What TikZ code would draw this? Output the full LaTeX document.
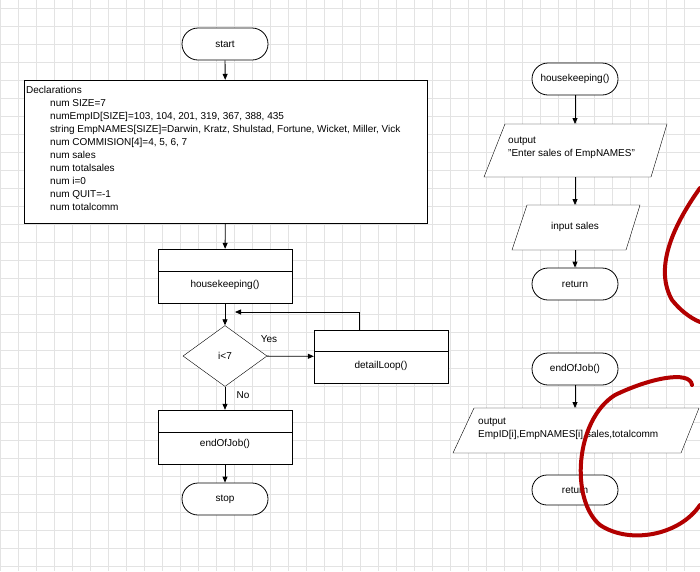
\documentclass[tikz,border=0pt]{standalone}
\usepackage{fontspec}
\setmainfont{Liberation Sans}
\usetikzlibrary{arrows.meta,shapes.geometric,shapes.misc}
\begin{document}
\begin{tikzpicture}[x=1pt,y=-1pt,font=\fontsize{10}{13}\selectfont,
  term/.style={draw,thick,rounded rectangle,minimum width=86pt,minimum height=32pt,inner sep=0},
  proc/.style={draw,minimum width=134pt,minimum height=54pt,inner sep=0},
  arr/.style={-{Triangle[length=6pt,width=5pt]},thick},
  grid/.style={draw=gray!22,line width=0.6pt}]
\useasboundingbox (0,0) rectangle (700,571);
\fill[white] (0,0) rectangle (700,571);
\foreach \x in {0,18,...,700} \draw[grid] (\x,0) -- (\x,571);
\foreach \y in {8,26,...,571} \draw[grid] (0,\y) -- (700,\y);
% left column
\node[term,fill=white] (start) at (225,44) {start};
\node[draw,fill=white,minimum width=403pt,minimum height=143pt] (decl) at (225.5,151.5) {};
\node[anchor=north west,align=left,inner sep=0] (decltext) at (26,86) {Declarations\\
\hspace*{24pt}num SIZE=7\\
\hspace*{24pt}numEmpID[SIZE]=103, 104, 201, 319, 367, 388, 435\\
\hspace*{24pt}string EmpNAMES[SIZE]=Darwin, Kratz, Shulstad, Fortune, Wicket, Miller, Vick\\
\hspace*{24pt}num COMMISION[4]=4, 5, 6, 7\\
\hspace*{24pt}num sales\\
\hspace*{24pt}num totalsales\\
\hspace*{24pt}num i=0\\
\hspace*{24pt}num QUIT=-1\\
\hspace*{24pt}num totalcomm};
\node[proc,fill=white] (hk) at (225,276) {};
\draw (158,271) -- (292,271);
\node (hkt) at (225,285) {housekeeping()};
\node[diamond,draw,fill=white,minimum width=84pt,minimum height=61pt,inner sep=0,aspect=1.4] (dec) at (225,356) {};
\node at (225,356) {i<7};
\node[proc,fill=white,minimum height=53pt] (dl) at (381,356.5) {};
\draw (314,351) -- (448,351);
\node (dlt) at (381,366) {detailLoop()};
\node (yes) at (269,339) {Yes};
\node (no) at (243,395) {No};
\node[proc,fill=white] (ej) at (225,437) {};
\draw (158,432) -- (292,432);
\node (ejt) at (225,444) {endOfJob()};
\node[term,fill=white] (stop) at (225,499) {stop};
\coordinate (back) at (235,312);
\draw[arr] (start) -- (decl);
\draw[arr] (decl) -- (hk);
\draw[arr] (hk) -- (dec);
\draw[arr] (dec) -- (dl);
\draw[arr] (dec) -- (ej);
\draw[arr] (ej) -- (stop);
\draw[arr] (dl.north -| 359,0) |- (back);
% right column
\node[term,fill=white] (hk2) at (575,79) {housekeeping()};
\draw[fill=white] (505,124) -- (667,124) -- (651,177) -- (484,177) -- cycle;
\node[anchor=north west,align=left,inner sep=0] (out1) at (508,137) {output\\\symbol{34}Enter sales of EmpNAMES\symbol{34}};
\coordinate (o1t) at (575,124); \coordinate (o1b) at (575,177);
\draw[fill=white] (527,205) -- (640,205) -- (626,250) -- (512,250) -- cycle;
\node (insales) at (575,227) {input sales};
\coordinate (i1t) at (575,205); \coordinate (i1b) at (575,250);
\node[term,fill=white] (ret1) at (575,284) {return};
\draw[arr] (hk2) -- (o1t);
\draw[arr] (o1b) -- (i1t);
\draw[arr] (i1b) -- (ret1);
\node[term,fill=white] (ej2) at (575,369) {endOfJob()};
\draw[fill=white] (474,408) -- (699,408) -- (681,453) -- (453,453) -- cycle;
\node[anchor=north west,align=left,inner sep=0] (out2) at (478,418) {output\\EmpID[i],EmpNAMES[i],sales,totalcomm};
\coordinate (o2t) at (575,408);
\draw[arr] (ej2) -- (o2t);
\node[term,fill=white,minimum height=30pt] (ret2) at (575,490) {return};
% red scribbles
\draw[red!70!black,line width=4pt,line cap=round] (700,188) .. controls (670,230) and (655,270) .. (672,300) .. controls (680,310) and (690,318) .. (700,322);
\draw[red!70!black,line width=4pt,line cap=round] (692,385) .. controls (690,370) and (650,378) .. (615,395) .. controls (575,420) and (570,500) .. (600,525) .. controls (630,545) and (680,535) .. (700,505);
\end{tikzpicture}
\end{document}
